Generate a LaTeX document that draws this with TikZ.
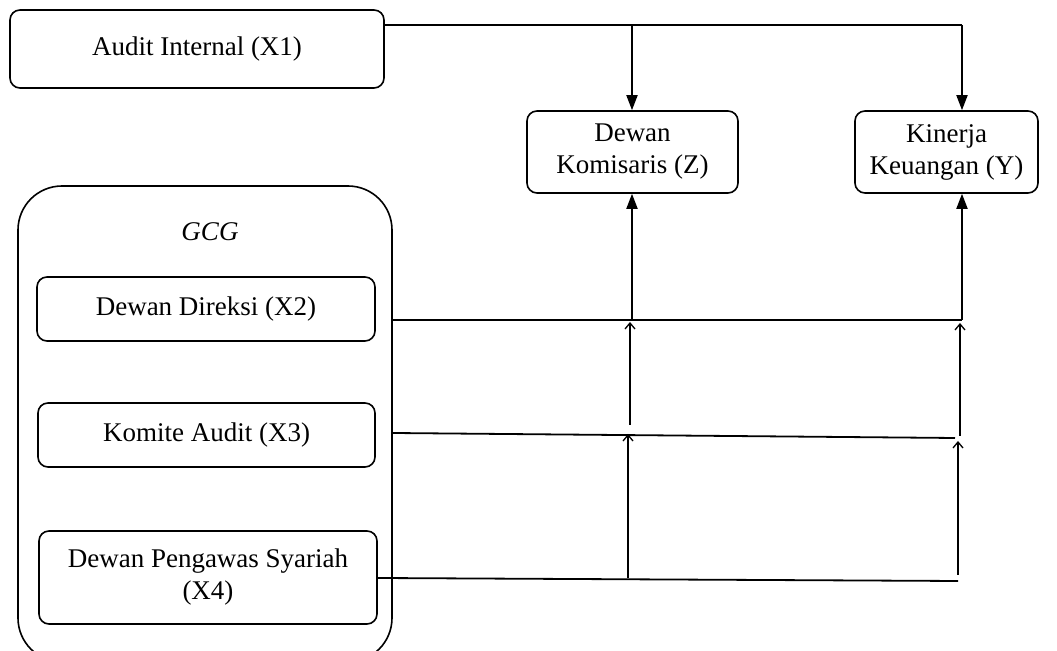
\documentclass[tikz,border=0pt]{standalone}
\usepackage{fontspec}
\setmainfont{Liberation Serif}
\usetikzlibrary{arrows.meta}
\begin{document}
\begin{tikzpicture}[x=0.5pt,y=-0.5pt,
  box/.style={draw, line width=0.8pt, rounded corners=5pt, align=center, inner sep=0pt,
    font=\fontsize{13.5}{16}\selectfont},
  main/.style={line width=0.9pt},
  tri/.style={main,-{Triangle[length=7.5pt,width=5.5pt]}},
  thinarrow/.style={line width=0.65pt,-{Straight Barb[length=3pt,width=5pt]}}]
\useasboundingbox (0,0) rectangle (1057,651);
\clip (0,0) rectangle (1057,651);
% nodes
\node[box, minimum width=187pt, minimum height=39pt] (ai) at (197,49) {Audit Internal (X1)};
\node[box, minimum width=105.5pt, minimum height=41pt] (dk) at (632.5,152) {Dewan\\Komisaris (Z)};
\node[box, minimum width=91.5pt, minimum height=41pt] (ky) at (946.5,152) {Kinerja\\Keuangan (Y)};
\node[box, rounded corners=22pt, minimum width=187pt, minimum height=238pt] (gcg) at (205,424) {};
\node[font=\fontsize{13.5}{16}\selectfont\itshape] (gcgl) at (210,232) {GCG};
\node[box, minimum width=169pt, minimum height=32pt] (dd) at (206,309) {Dewan Direksi (X2)};
\node[box, minimum width=168.5pt, minimum height=32pt] (ka) at (206.5,435) {Komite Audit (X3)};
\node[box, minimum width=169pt, minimum height=46.5pt] (dps) at (208,577.5) {Dewan Pengawas Syariah\\(X4)};
% X1 connectors
\coordinate (j1) at (632,25);
\coordinate (j2) at (962,25);
\draw[main] (ai.east|-j1) -- (j2);
\draw[tri] (j1) -- (j1|-dk.north);
\draw[tri] (j2) -- (j2|-ky.north);
% X2 connectors
\coordinate (a2) at (632,320);
\coordinate (b2) at (962,320);
\draw[main] (gcg.east|-a2) -- (b2);
\draw[tri] (b2) -- (b2|-ky.south);
\draw[tri] (a2) -- (a2|-dk.south);
% X3 connectors
\coordinate (c3) at (392,433);
\coordinate (e3) at (955,438);
\draw[main] (gcg.east|-c3) -- (e3);
\coordinate (p3a) at (630,425); \coordinate (q3a) at (630,322);
\coordinate (p3b) at (960,436); \coordinate (q3b) at (960,323);
\draw[thinarrow] (p3a) -- (q3a);
\draw[thinarrow] (p3b) -- (q3b);
% X4 connectors
\coordinate (c4) at (377,578);
\coordinate (e4) at (958,581);
\draw[main] (dps.east|-c4) -- (e4);
\coordinate (p4a) at (628,578); \coordinate (q4a) at (628,434);
\coordinate (p4b) at (958,575); \coordinate (q4b) at (958,441);
\draw[thinarrow] (p4a) -- (q4a);
\draw[thinarrow] (p4b) -- (q4b);
\end{tikzpicture}
\end{document}
